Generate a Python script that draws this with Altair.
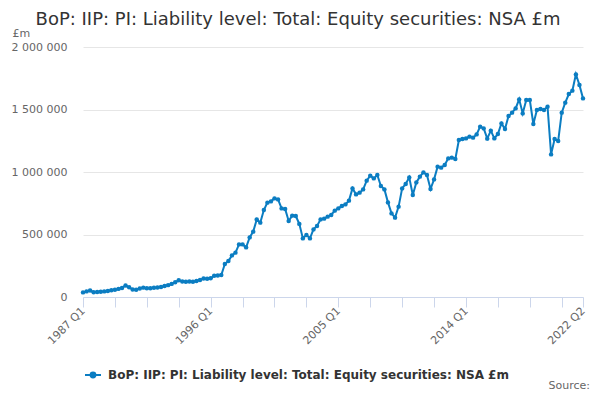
import json
import altair as alt
import pandas as pd

# ---- data (£m) ----
quarters = [f"{y} Q{q}" for y in range(1987, 2023) for q in range(1, 5)][:142]

values_1987_1991 = [37000, 45000, 52000, 38000, 40000, 42000, 45000, 48000,
                    54000, 58000, 65000, 72000, 92000, 78000, 60000, 58000,
                    68000, 75000, 70000, 70000]
values_1992_1996 = [74000, 76000, 80000, 88000, 95000, 105000, 118000, 134000,
                    124000, 122000, 124000, 122000, 128000, 136000, 148000, 146000,
                    150000, 170000, 172000, 176000]
values_1997_2001 = [264000, 288000, 333000, 355000, 421000, 421000, 397000, 477000,
                    523000, 621000, 595000, 696000, 755000, 765000, 789000, 781000,
                    709000, 704000, 608000, 651000]
values_2002_2006 = [648000, 585000, 469000, 496000, 469000, 541000, 568000, 621000,
                    627000, 643000, 656000, 691000, 709000, 728000, 741000, 771000,
                    869000, 821000, 835000, 861000]
values_2007_2011 = [931000, 971000, 949000, 976000, 888000, 861000, 757000, 669000,
                    635000, 723000, 869000, 904000, 957000, 816000, 917000, 963000,
                    997000, 976000, 864000, 941000]
values_2012_2016 = [1043000, 1035000, 1056000, 1109000, 1115000, 1104000, 1256000, 1264000,
                    1269000, 1283000, 1275000, 1301000, 1363000, 1349000, 1267000, 1331000,
                    1269000, 1304000, 1389000, 1344000]
values_2017_2022 = [1448000, 1475000, 1509000, 1581000, 1469000, 1576000, 1576000, 1384000,
                    1496000, 1504000, 1496000, 1523000, 1141000, 1264000, 1248000, 1475000,
                    1555000, 1624000, 1651000, 1781000, 1696000, 1589000]

values = (values_1987_1991 + values_1992_1996 + values_1997_2001 + values_2002_2006
          + values_2007_2011 + values_2012_2016 + values_2017_2022)
assert len(values) == len(quarters)

series_name = "BoP: IIP: PI: Liability level: Total: Equity securities: NSA £m"
x_tick_quarters = quarters[::9] + [quarters[-1]]
x_label_quarters = ["1987 Q1", "1996 Q1", "2005 Q1", "2014 Q1", "2022 Q2"]
y_ticks = [0, 500000, 1000000, 1500000, 2000000]

df = pd.DataFrame({"quarter": quarters, "value": values, "series": series_name})

BLUE = "#0b7dc2"
FONT = "DejaVu Sans"

x_label_expr = ("indexof(" + json.dumps(x_label_quarters) +
                ", datum.value) >= 0 ? datum.value : ''")
y_label_expr = "replace(replace(format(datum.value, ','), ',', ' '), ',', ' ')"

line = alt.Chart(df).mark_line(
    strokeWidth=2,
    point=alt.OverlayMarkDef(size=20, filled=True, color=BLUE),
).encode(
    x=alt.X("quarter:O", sort=quarters,
            scale=alt.Scale(type="point", padding=0),
            axis=alt.Axis(values=x_tick_quarters, labelExpr=x_label_expr,
                          labelAngle=-45, labelAlign="right", labelBaseline="middle",
                          labelPadding=2, labelOverlap=False,
                          tickSize=10, tickColor="#ccd6eb", domainColor="#ccd6eb",
                          grid=False, title=None, labelColor="#666666",
                          labelFontSize=11, labelFont=FONT)),
    y=alt.Y("value:Q", scale=alt.Scale(domain=[0, 2000000], nice=False),
            axis=alt.Axis(values=y_ticks, labelExpr=y_label_expr, grid=True,
                          gridColor="#e6e6e6", domain=False, ticks=False,
                          labelColor="#666666", labelFontSize=11, labelFont=FONT,
                          labelPadding=16, title="£m", titleAngle=0,
                          titleAlign="left", titleBaseline="alphabetic",
                          titleX=-71, titleY=-11, titleFontSize=11,
                          titleFontWeight="normal", titleColor="#666666",
                          titleFont=FONT)),
    color=alt.Color("series:N", scale=alt.Scale(range=[BLUE]),
                    legend=alt.Legend(
                        orient="none", legendX=1, legendY=319, title=None,
                        labelFont=FONT, labelFontSize=12, labelFontWeight="bold",
                        labelColor="#333333", labelLimit=700, labelOffset=6,
                        symbolType="M-1,0L1,0M0.3,0A0.3,0.3,0,1,1,-0.3,0A0.3,0.3,0,1,1,0.3,0Z",
                        symbolSize=256, symbolStrokeWidth=2,
                        symbolFillColor=BLUE, symbolStrokeColor=BLUE, padding=0)),
)

source = alt.Chart(pd.DataFrame({"t": ["Source:"]})).mark_text(
    align="right", baseline="alphabetic", fontSize=11, color="#666666", font=FONT
).encode(text="t:N", x=alt.value(507), y=alt.value(342))

chart = alt.layer(line, source).properties(
    width=500, height=250,
    title=alt.Title(series_name, fontSize=18, font=FONT, fontWeight="normal",
                    color="#333333", anchor="middle", frame="group", dx=-35, offset=-2),
    autosize=alt.AutoSizeParams(type="none"),
    padding={"left": 75, "top": 39, "right": 9, "bottom": 95},
).configure_view(stroke=None)

chart.save("out.html", embed_options={"renderer": "svg", "actions": False})
